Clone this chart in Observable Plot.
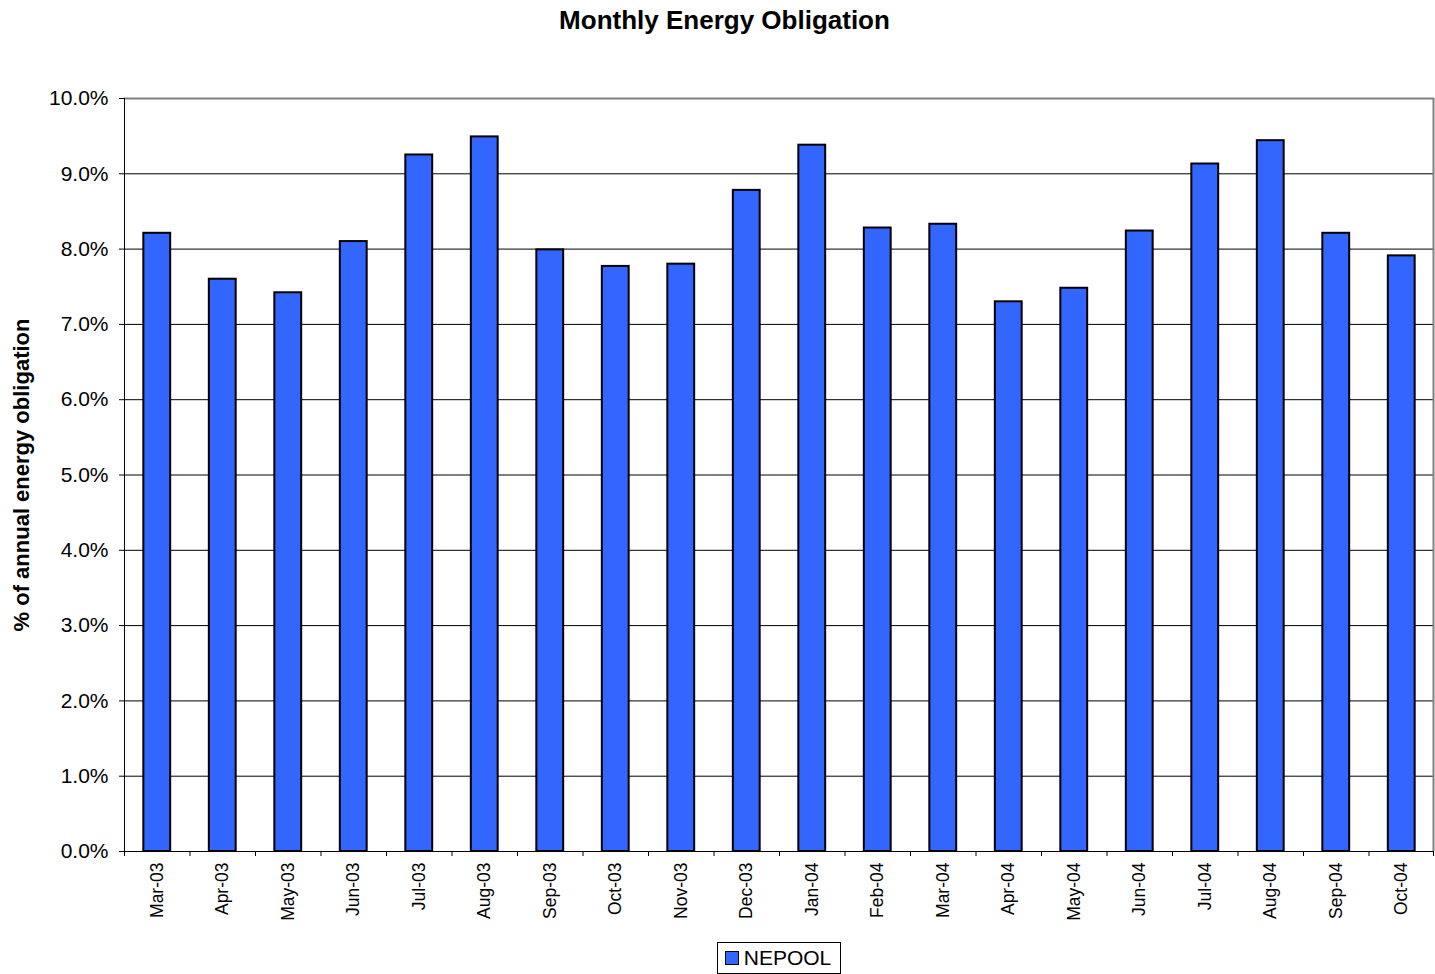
<!DOCTYPE html>
<html>
<head>
<meta charset="utf-8">
<script src="https://cdn.jsdelivr.net/npm/d3@7"></script>
<script src="https://cdn.jsdelivr.net/npm/@observablehq/plot@0.6"></script>
<style>
  body { margin: 0; background: #fff; font-family: Arial, "Liberation Sans", sans-serif; }
  #title { height: 40px; line-height: 40px; text-align: center; font-size: 26px; font-weight: bold; color: #000; padding-left: 14px; }
  #legend-wrap { text-align: center; padding-left: 123px; margin-top: 2px; }
  #legend { display: inline-flex; align-items: center; border: 1px solid #000; padding: 3px 9px 3px 7px; font-size: 21px; color: #000; }
  #legend .sw { display: inline-block; width: 12px; height: 12px; background: #3366FF; border: 1.5px solid #000; margin-right: 5px; }
</style>
</head>
<body>
<div id="title">Monthly Energy Obligation</div>
<div id="chart"></div>
<div id="legend-wrap"><span id="legend"><span class="sw"></span>NEPOOL</span></div>
<script>
const months = ["Mar-03","Apr-03","May-03","Jun-03","Jul-03","Aug-03","Sep-03","Oct-03","Nov-03","Dec-03",
                "Jan-04","Feb-04","Mar-04","Apr-04","May-04","Jun-04","Jul-04","Aug-04","Sep-04","Oct-04"];
const nepool = [8.21,7.60,7.42,8.10,9.25,9.49,7.99,7.77,7.80,8.78,
                9.38,8.28,8.33,7.30,7.48,8.24,9.13,9.44,8.21,7.91];
const yTicks = [0,1,2,3,4,5,6,7,8,9,10];

const data = months.map((m, i) => ({month: m, value: nepool[i]}));

const W = 1435, H = 900, mL = 124, mR = 1, mT = 58, mB = 89;
const step = (W - mL - mR) / months.length;
const first = months[0], last = months[months.length - 1];

const chart = Plot.plot({
  width: W, height: H,
  marginLeft: mL, marginRight: mR, marginTop: mT, marginBottom: mB,
  style: {fontFamily: "Arial, 'Liberation Sans', sans-serif", color: "#000", background: "#fff"},
  x: {domain: months, paddingInner: 0.59, paddingOuter: 0.295, round: false, label: null},
  y: {domain: [0, 10], label: null},
  marks: [
    Plot.ruleY(yTicks.filter(d => d > 0 && d < 10), {stroke: "#000", strokeWidth: 1}),
    Plot.ruleY([10], {stroke: "#808080", strokeWidth: 2}),
    Plot.ruleX([last], {dx: step / 2 - 1, stroke: "#808080", strokeWidth: 2}),
    Plot.barY(data, {x: "month", y: "value", fill: "#3366FF", stroke: "#000", strokeWidth: 2}),
    Plot.ruleY([0], {stroke: "#000", strokeWidth: 1}),
    Plot.ruleX([first], {dx: -step / 2, stroke: "#000", strokeWidth: 1}),
    Plot.ruleX(months, {dx: -step / 2, y1: 0, y2: 0, insetBottom: -5, stroke: "#000"}),
    Plot.ruleX([last], {dx: step / 2 - 1, y1: 0, y2: 0, insetBottom: -5, stroke: "#000"}),
    Plot.axisY({ticks: yTicks, tickFormat: d => d.toFixed(1) + "%", tickSize: 5, tickPadding: 11,
      fontSize: 21, stroke: "#000", label: "% of annual energy obligation", labelAnchor: "center",
      labelArrow: "none", labelOffset: 111}),
    Plot.axisX({tickRotate: -90, tickSize: 0, tickPadding: 11, fontSize: 17.5, label: null})
  ]
});
document.getElementById("chart").appendChild(chart);
chart.querySelectorAll("g[aria-label='y-axis label'] text").forEach(t => {
  t.setAttribute("font-weight", "bold");
  t.setAttribute("font-size", "22");
});
</script>
</body>
</html>
